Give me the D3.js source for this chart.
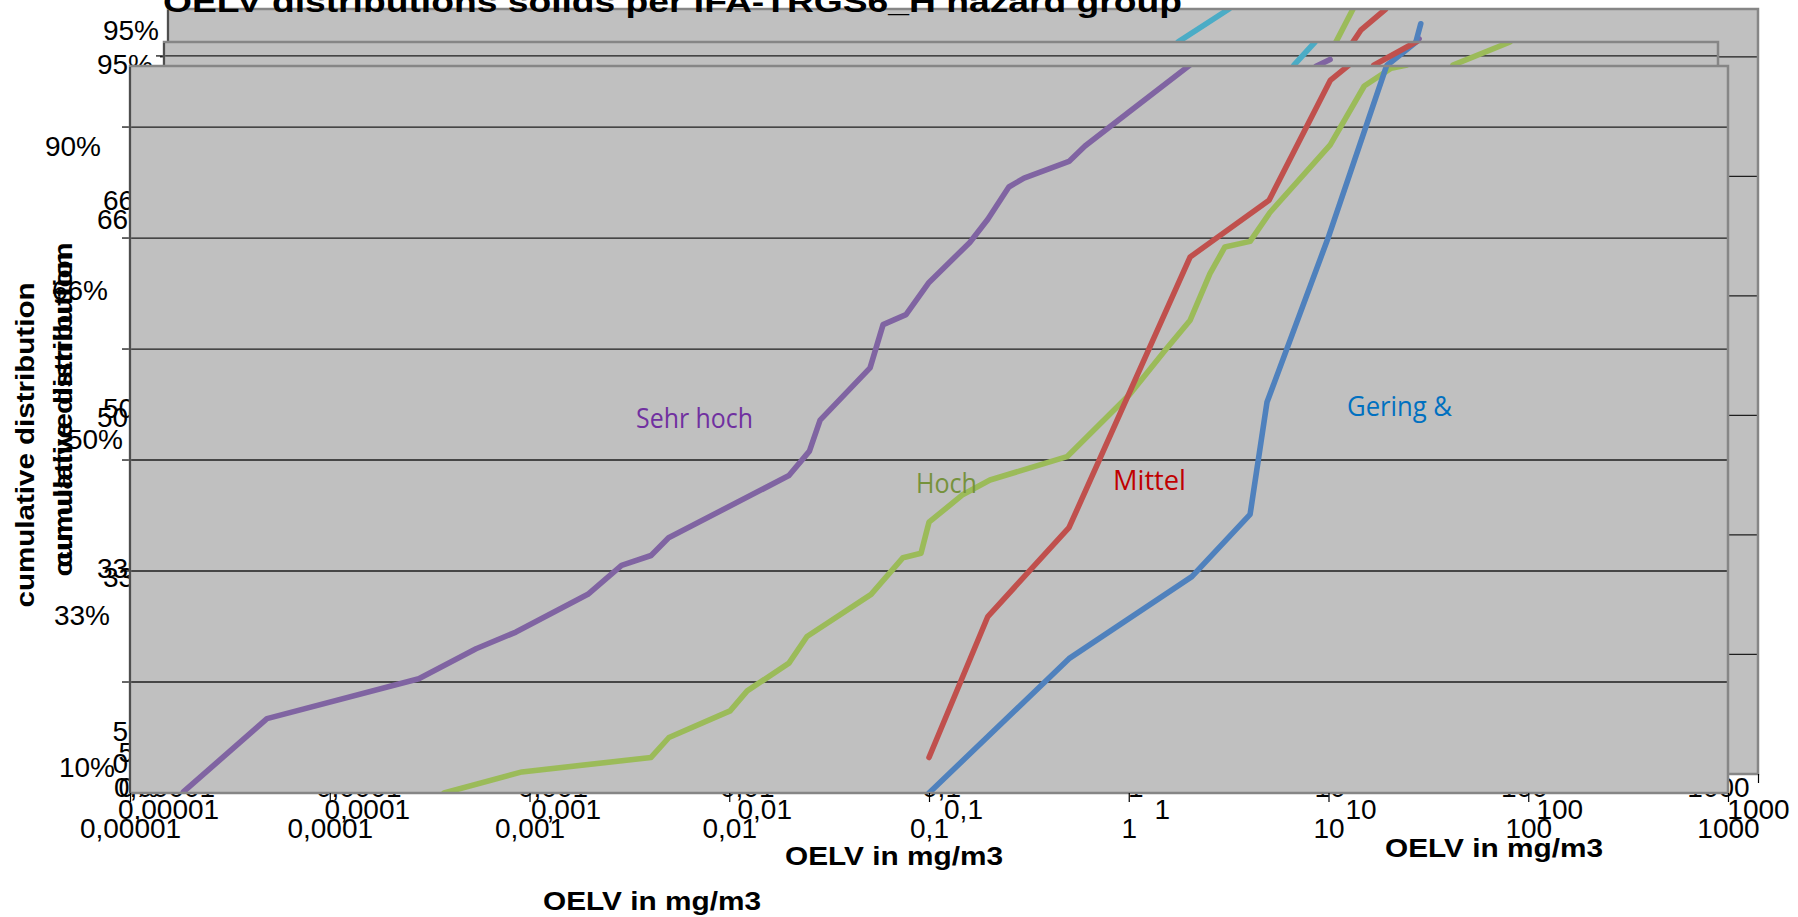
<!DOCTYPE html>
<html>
<head>
<meta charset="utf-8">
<script src="https://cdn.jsdelivr.net/npm/d3@7"></script>
<style>
  body { margin: 0; background: #fff; overflow: hidden; }
  svg { display: block; }
</style>
</head>
<body>
<svg id="chart" width="1798" height="917"></svg>
<script>
// OELV distributions — three overlapping chart panels (back A, middle B, front C)

// x axis: OELV in mg/m3 (log)
const xTickValues = [1e-5, 1e-4, 1e-3, 1e-2, 1e-1, 1, 10, 100, 1000];
const xTickLabels = ["0,00001", "0,0001", "0,001", "0,01", "0,1", "1", "10", "100", "1000"];

// y axis tick labels per panel and where they sit (in gridline units)
const yLabelsA = ["95%", "66%", "50%", "33%", "5%", "0%"];
const yLabelPosA = [6.22, 4.80, 3.06, 1.65, 0.18, -0.11];
const yLabelsB = ["95%", "66%", "50%", "33%", "5%", "0%"];
const yLabelPosB = [5.93, 4.59, 2.89, 1.58, 0.18, -0.10];
const yLabelsC = ["90%", "66%", "50%", "33%", "10%"];
const yLabelPosC = [5.83, 4.53, 3.19, 1.60, 0.23];

// front panel series: [OELV, y position]
const sehrHoch = [
  [1.85e-5, 0.01], [4.85e-5, 0.67], [2.79e-4, 1.03], [5.40e-4, 1.30], [8.55e-4, 1.45],
  [1.96e-3, 1.79], [2.89e-3, 2.05], [4.06e-3, 2.14], [4.97e-3, 2.30], [0.0199, 2.86],
  [0.0252, 3.08], [0.0285, 3.36], [0.0507, 3.83], [0.0589, 4.22], [0.0767, 4.31],
  [0.100, 4.60], [0.160, 4.96], [0.197, 5.17], [0.251, 5.46], [0.299, 5.54],
  [0.502, 5.69], [0.604, 5.83], [1.01, 6.14], [2.03, 6.56]
];
const hoch = [
  [3.73e-4, 0], [9.16e-4, 0.19], [4.06e-3, 0.32], [4.99e-3, 0.50], [0.0101, 0.74],
  [0.0123, 0.92], [0.0199, 1.17], [0.0245, 1.41], [0.0513, 1.79], [0.0741, 2.12],
  [0.0912, 2.16], [0.100, 2.44], [0.148, 2.69], [0.202, 2.82], [0.491, 3.03],
  [1.01, 3.59], [1.54, 4.00], [2.03, 4.26], [2.55, 4.68], [3.03, 4.92], [4.05, 4.97],
  [5.09, 5.23], [10.2, 5.84], [15.1, 6.37], [20.6, 6.53], [24.7, 6.56]
];
const mittel = [
  [0.100, 0.32], [0.197, 1.59], [0.502, 2.39], [2.03, 4.83], [5.04, 5.34], [10.2, 6.42], [12.7, 6.56]
];
const gering = [
  [0.100, 0], [0.502, 1.21], [2.07, 1.95], [4.05, 2.51], [4.92, 3.52], [9.95, 5.00], [19.6, 6.56]
];

// what shows of the hidden panels' series
const cyanA = [[1.21, 6.125], [2.18, 6.40]];
const greenA = [[7.53, 6.125], [9.17, 6.40]];
const redA = [[9.17, 6.125], [10.07, 6.226], [13.4, 6.40]];
const blueA = [[19.0, 6.125], [20.1, 6.276]];
const purpleA = [[18.2, 6.09], [19.7, 6.15]];
const cyanB = [[6.56, 5.92], [8.42, 6.12]];
const purpleB = [[8.53, 5.91], [10.07, 5.97]];
const redB = [[16.9, 5.92], [29.2, 6.14]];
const blueB = [[19.8, 5.92], [27.9, 6.12]];
const greenB = [[43.2, 5.92], [85.0, 6.12]];

const COL = { purple: "#8064a2", green: "#9bbb59", red: "#c0504d", blue: "#4f81bd", cyan: "#4bacc6" };
const FONT = "'Liberation Sans', Arial, sans-serif";

const svg = d3.select("#chart");

const panels = [
  { id: "A", left: 168, right: 1758, top: 9, bottom: 774, yMax: 6.40,
    labels: yLabelsA, labelPos: yLabelPosA, labelRight: [159, 159, 159, 159, 159, 159],
    series: [
      { values: cyanA, color: COL.cyan }, { values: greenA, color: COL.green },
      { values: redA, color: COL.red }, { values: purpleA, color: COL.purple },
      { values: blueA, color: COL.blue }
    ] },
  { id: "B", left: 164, right: 1718, top: 42, bottom: 752, yMax: 6.12,
    labels: yLabelsB, labelPos: yLabelPosB, labelRight: [153, 153, 153, 153, 153, 153],
    series: [
      { values: cyanB, color: COL.cyan }, { values: purpleB, color: COL.purple },
      { values: blueB, color: COL.blue }, { values: redB, color: COL.red },
      { values: greenB, color: COL.green }
    ] },
  { id: "C", left: 130, right: 1728, top: 66, bottom: 793, yMax: 6.55,
    labels: yLabelsC, labelPos: yLabelPosC, labelRight: [101, 108, 123, 110, 115],
    series: [
      { values: sehrHoch, color: COL.purple }, { values: hoch, color: COL.green },
      { values: mittel, color: COL.red }, { values: gering, color: COL.blue }
    ] }
];

function drawPanel(p) {
  const x = d3.scaleLog().domain([1e-5, 1e3]).range([p.left, p.right]);
  const y = d3.scaleLinear().domain([0, p.yMax]).range([p.bottom, p.top]);
  const w = p.right - p.left, h = p.bottom - p.top;
  const g = svg.append("g").attr("class", "panel-" + p.id);

  g.append("clipPath").attr("id", "clip-" + p.id)
    .append("rect").attr("x", p.left).attr("y", p.top).attr("width", w).attr("height", h);

  g.append("rect")
    .attr("x", p.left).attr("y", p.top).attr("width", w).attr("height", h)
    .attr("fill", "#c0c0c0");

  // gridlines + left ticks
  const grid = d3.range(1, Math.floor(p.yMax) + 1);
  g.selectAll("line.grid").data(grid).join("line")
    .attr("class", "grid")
    .attr("x1", p.left).attr("x2", p.right)
    .attr("y1", d => y(d)).attr("y2", d => y(d))
    .attr("stroke", "#1e1e1e").attr("stroke-width", 1.3);
  g.selectAll("line.ytick").data(grid).join("line")
    .attr("class", "ytick")
    .attr("x1", p.left - 8).attr("x2", p.left)
    .attr("y1", d => y(d)).attr("y2", d => y(d))
    .attr("stroke", "#000").attr("stroke-width", 1.2);

  // series
  const line = d3.line().x(d => x(d[0])).y(d => y(d[1]));
  g.append("g").attr("clip-path", `url(#clip-${p.id})`)
    .selectAll("path").data(p.series).join("path")
    .attr("d", d => line(d.values))
    .attr("fill", "none")
    .attr("stroke", d => d.color)
    .attr("stroke-width", 5.6)
    .attr("stroke-linejoin", "round")
    .attr("stroke-linecap", "round");

  // frame
  g.append("rect")
    .attr("x", p.left).attr("y", p.top).attr("width", w).attr("height", h)
    .attr("fill", "none").attr("stroke", "#868686").attr("stroke-width", 2.5);
  g.append("line")
    .attr("x1", p.left).attr("x2", p.left).attr("y1", p.top + 1).attr("y2", p.bottom)
    .attr("stroke", "#2a2a2a").attr("stroke-width", 1.2);

  // x axis
  const ax = g.append("g")
    .attr("transform", `translate(0,${p.bottom})`)
    .call(d3.axisBottom(x).tickValues(xTickValues)
      .tickFormat((d, i) => xTickLabels[i]).tickSize(9).tickPadding(16));
  ax.select(".domain").remove();
  ax.selectAll("line").attr("stroke", "#000").attr("stroke-width", 1.2);
  ax.selectAll("text").attr("font-size", 28).attr("font-family", FONT).attr("fill", "#000");

  // y labels
  g.selectAll("text.ylab").data(p.labels).join("text")
    .attr("class", "ylab")
    .attr("x", (d, i) => p.labelRight[i])
    .attr("y", (d, i) => y(p.labelPos[i]))
    .attr("dy", "0.35em")
    .attr("text-anchor", "end")
    .attr("font-size", 28)
    .attr("font-family", FONT)
    .attr("fill", "#000")
    .text(d => d);
}

panels.forEach(drawPanel);

// chart title (runs off the top)
svg.append("text")
  .attr("x", 163).attr("y", 12)
  .attr("font-family", FONT).attr("font-weight", "bold").attr("font-size", 30)
  .attr("textLength", 1019).attr("lengthAdjust", "spacingAndGlyphs")
  .text("OELV distributions solids per IFA-TRGS6_H hazard group");

// x axis titles
const xTitles = [
  { x: 785, y: 865 }, { x: 1385, y: 857 }, { x: 543, y: 910 }
];
svg.selectAll("text.xtitle").data(xTitles).join("text")
  .attr("class", "xtitle")
  .attr("x", d => d.x).attr("y", d => d.y)
  .attr("font-family", FONT).attr("font-weight", "bold").attr("font-size", 26)
  .attr("textLength", 218).attr("lengthAdjust", "spacingAndGlyphs")
  .text("OELV in mg/m3");

// y axis titles
const yTitles = [
  { x: 34, y: 445 }, { x: 72, y: 414 }, { x: 72, y: 405 }
];
svg.selectAll("text.ytitle").data(yTitles).join("text")
  .attr("class", "ytitle")
  .attr("transform", d => `translate(${d.x},${d.y}) rotate(-90)`)
  .attr("text-anchor", "middle")
  .attr("font-family", FONT).attr("font-weight", "bold").attr("font-size", 26)
  .attr("textLength", 325).attr("lengthAdjust", "spacingAndGlyphs")
  .text("cumulative distribution");

// series labels in the front panel
const seriesLabels = [
  { text: "Sehr hoch", x: 636, y: 428, len: 117, color: "#7030a0" },
  { text: "Hoch", x: 916, y: 493, len: 61, color: "#76923c" },
  { text: "Mittel", x: 1113, y: 490, len: 73, color: "#c00000" },
  { text: "Gering &", x: 1347, y: 416, len: 105, color: "#0070c0" }
];
svg.selectAll("text.slab").data(seriesLabels).join("text")
  .attr("class", "slab")
  .attr("x", d => d.x).attr("y", d => d.y)
  .attr("font-family", "'Open Sans', 'Noto Sans', sans-serif")
  .attr("font-size", 27)
  .attr("fill", d => d.color)
  .attr("textLength", d => d.len).attr("lengthAdjust", "spacingAndGlyphs")
  .text(d => d.text);
</script>
</body>
</html>
